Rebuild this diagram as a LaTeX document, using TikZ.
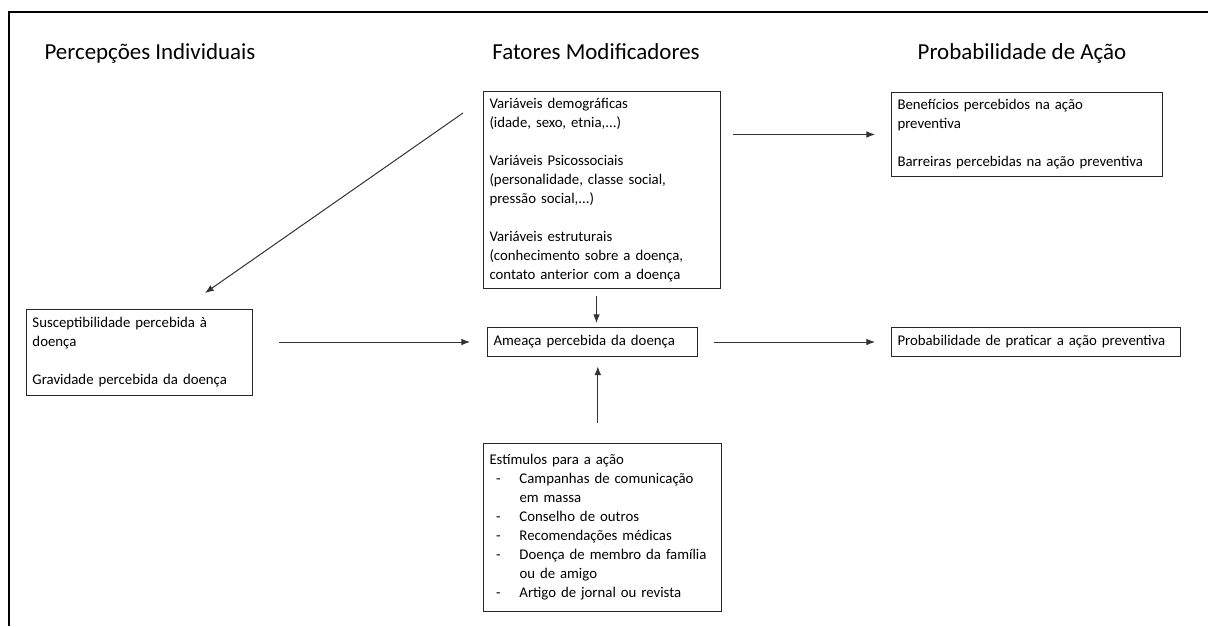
\documentclass[tikz,border=0pt]{standalone}
\usepackage{fontspec}
\setmainfont{Carlito}
\usetikzlibrary{arrows.meta}
\newcommand{\dashitem}[1]{\makebox[22.5pt][l]{\hspace{5pt}-}#1}
\newcommand{\itemcont}[1]{\hspace*{22.5pt}#1}
\begin{document}
\begin{tikzpicture}[x=0.75pt,y=-0.75pt]
	\tikzset{box/.style = {draw,line width=0.75pt,black!85,text=black,anchor=north west,align=left,inner xsep=4.5pt,inner ysep=3pt,font=\fontsize{11.1}{14.25}\selectfont}}
	\tikzset{title/.style = {anchor=base,font=\fontsize{17.2}{20}\selectfont}}
	\tikzset{edge/.style = {->,> = {Latex[length=6.5pt,width=5pt]},line width=0.75pt,black!80}}
	\useasboundingbox (0,0) rectangle (1208,626);
	\draw[line width=1.5pt] (9,626) -- (9,12) -- (1208,12);
	% column titles
	\node[title] (tpi) at (150,59) {Percepções Individuais};
	\node[title] (tfm) at (596,59) {Fatores Modificadores};
	\node[title] (tpa) at (1022,59) {Probabilidade de Ação};
	% boxes
	\node[box,text width=168.75pt,minimum height=147.75pt] (demo) at (483,91) {Variáveis demográficas\\(idade, sexo, etnia,...)\\[14.25pt]Variáveis Psicossociais\\(personalidade, classe social,\\pressão social,...)\\[14.25pt]Variáveis estruturais\\(conhecimento sobre a doença,\\contato anterior com a doença};
	\node[box,text width=194.25pt,minimum height=63pt] (ben) at (891,92) {Benefícios percebidos na ação\\preventiva\\[14.25pt]Barreiras percebidas na ação preventiva};
	\node[box,text width=160.5pt,minimum height=64.5pt] (susc) at (26,309) {Susceptibilidade percebida à\\doença\\[14.25pt]Gravidade percebida da doença};
	\node[box,text width=148.5pt,minimum height=21.75pt] (threat) at (487,327) {Ameaça percebida da doença};
	\node[box,text width=207.75pt,minimum height=21.75pt] (prob) at (891,327) {Probabilidade de praticar a ação preventiva};
	\node[box,text width=169.5pt,minimum height=126pt] (stim) at (483,443) {Estímulos para a ação\\\dashitem{Campanhas de comunicação}\\\itemcont{em massa}\\\dashitem{Conselho de outros}\\\dashitem{Recomendações médicas}\\\dashitem{Doença de membro da família}\\\itemcont{ou de amigo}\\\dashitem{Artigo de jornal ou revista}};
	% arrows
	\path[edge] ([shift={(-20,22)}]demo.north west) edge ([shift={(179,-16)}]susc.north west);
	\path[edge] (demo.east |- ben.west) edge[shorten <=9pt,shorten >=12pt] (ben.west);
	\path[edge] (susc.east |- threat.west) edge[shorten <=19.5pt,shorten >=12.75pt] (threat.west);
	\path[edge] (threat.east) edge[shorten <=12pt,shorten >=12pt] (prob.west);
	\path[edge] ([xshift=3pt]threat.north |- demo.south) edge[shorten <=5pt,shorten >=3pt] ([xshift=3pt]threat.north);
	\path[edge] ([xshift=4pt]threat.south |- stim.north) edge[shorten <=15pt,shorten >=7pt] ([xshift=4pt]threat.south);
\end{tikzpicture}
\end{document}
